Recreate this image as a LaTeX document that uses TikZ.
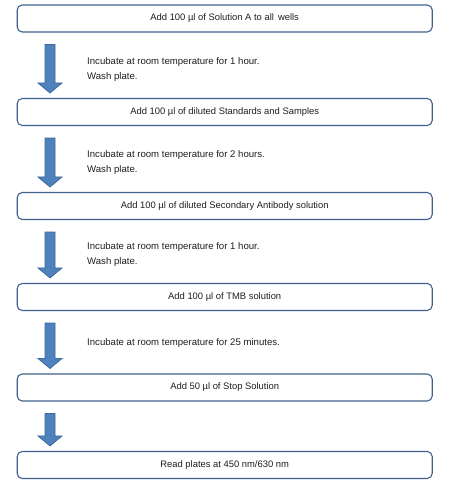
\documentclass[tikz,border=0pt]{standalone}
\usepackage{fontspec}
\setmainfont{Liberation Sans}
\definecolor{elEdge}{HTML}{41618C}
\definecolor{elArrow}{HTML}{4F81BD}
\definecolor{elArrowEdge}{HTML}{3C6A9E}
\definecolor{elText}{HTML}{1E1E1E}
\usetikzlibrary{calc}

\begin{document}
\begin{tikzpicture}[x=1pt, y=-1pt,
  stepbox/.style={draw=elEdge, line width=1.1pt, rounded corners=5pt,
    minimum width=415pt, minimum height=27pt, inner sep=0pt,
    text=elText, font=\fontsize{9.4}{11}\selectfont},
  note/.style={anchor=west, align=left, inner sep=0pt,
    text=elText, font=\fontsize{9.6}{15}\selectfont},
  flowarr/.style={draw=elArrowEdge, fill=elArrow, line width=0.8pt,
    to path={($(\tikztostart)+(-5,12)$) -- ($(\tikztotarget)+(-5,-15)$)
      -- ($(\tikztotarget)+(-12,-15)$) -- ($(\tikztotarget)+(0,-5)$)
      -- ($(\tikztotarget)+(12,-15)$) -- ($(\tikztotarget)+(5,-15)$)
      -- ($(\tikztostart)+(5,12)$) -- cycle}}
]
  \useasboundingbox (0,0) rectangle (460,493);
  \coordinate (ax) at (50,0);

  % protocol steps
  \node[stepbox] (s1) at (224.7,18.5) {Add 100 µl of Solution A to all\hspace{1.5pt} wells};
  \node[stepbox] (s2) at (224.7,112) {Add 100 µl of diluted Standards and Samples};
  \node[stepbox] (s3) at (224.7,206) {Add 100 µl of diluted Secondary Antibody solution};
  \node[stepbox] (s4) at (224.7,297) {Add 100 µl of TMB solution};
  \node[stepbox] (s5) at (224.7,387.5) {Add 50 µl of Stop Solution};
  \node[stepbox] (s6) at (224.7,465) {Read plates at 450 nm/630 nm};

  % incubation notes
  \node[note] (n1) at (87,69.5) {Incubate at room temperature for 1 hour.\\Wash plate.};
  \node[note] (n2) at (87,163) {Incubate at room temperature for 2 hours.\\Wash plate.};
  \node[note] (n3) at (87,255) {Incubate at room temperature for 1 hour.\\Wash plate.};
  \node[note] (n4) at (87,343) {Incubate at room temperature for 25 minutes.};

  % block arrows
  \draw[flowarr] (s1.south -| ax) to (s2.north -| ax);
  \draw[flowarr] (s2.south -| ax) to (s3.north -| ax);
  \draw[flowarr] (s3.south -| ax) to (s4.north -| ax);
  \draw[flowarr] (s4.south -| ax) to (s5.north -| ax);
  \draw[flowarr] (s5.south -| ax) to (s6.north -| ax);
\end{tikzpicture}
\end{document}
